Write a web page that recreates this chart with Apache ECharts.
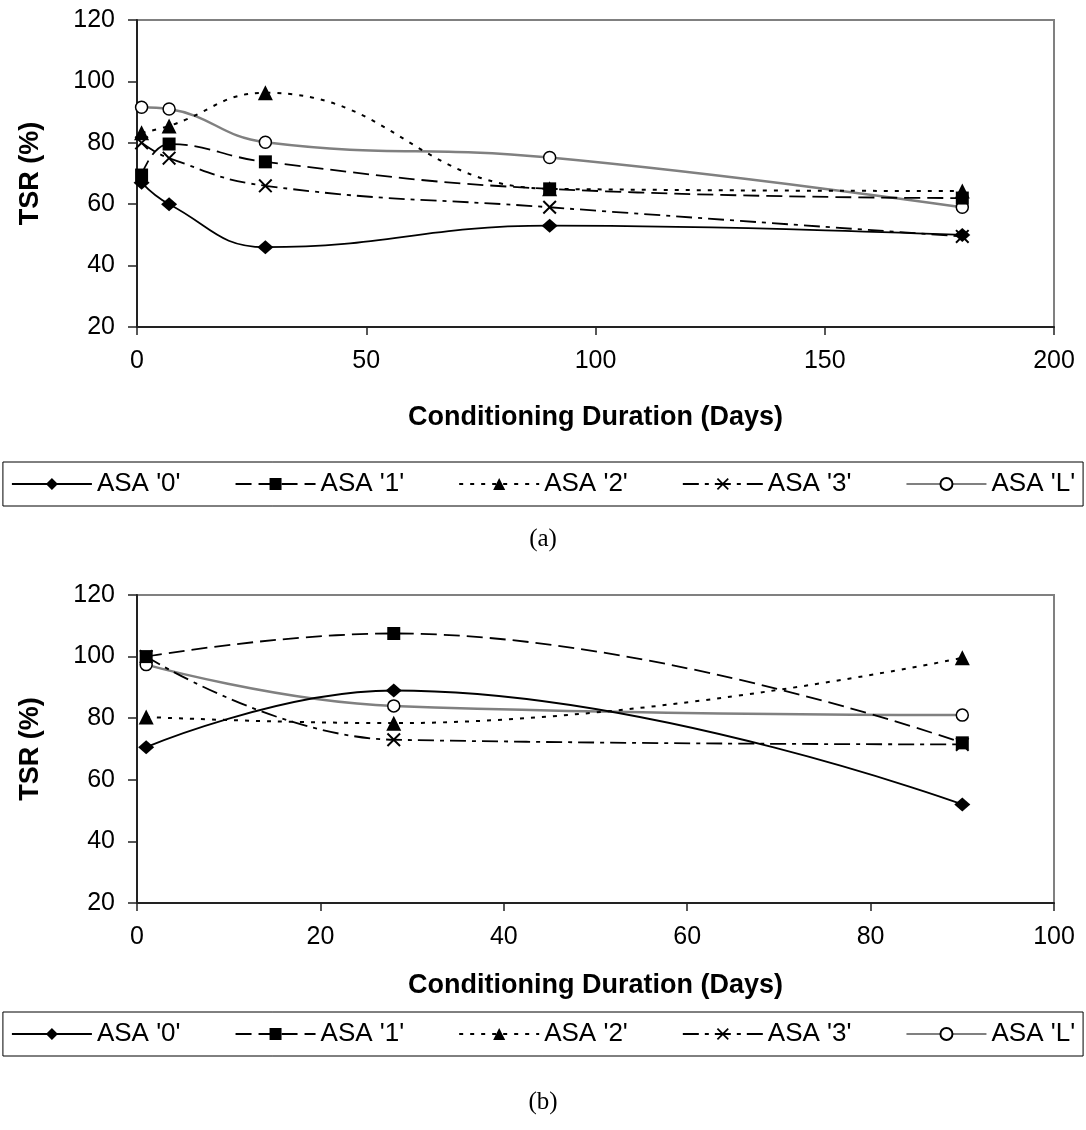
<!DOCTYPE html>
<html>
<head>
<meta charset="utf-8">
<title>TSR vs Conditioning Duration</title>
<script src="https://cdn.jsdelivr.net/npm/echarts@6/dist/echarts.min.js"></script>
<style>
  html, body { margin: 0; padding: 0; background: #fff; }
  #chart { width: 1086px; height: 1130px; }
</style>
</head>
<body>
<div id="chart"></div>
<script>
// --- panel (a) data ---
const daysA = [1, 7, 28, 90, 180];
const asa0A = [67, 60, 46, 53, 50];
const asa1A = [69.5, 79.6, 73.8, 65, 62];
const asa2A = [83.3, 85.5, 96.3, 65, 64.3];
const asa3A = [80, 75, 66, 59, 49.5];
const asaLA = [91.6, 91, 80.2, 75.2, 59];

// --- panel (b) data ---
const daysB = [1, 28, 90];
const asa0B = [70.6, 89, 52];
const asa1B = [100, 107.5, 72];
const asa2B = [80.4, 78.4, 99.6];
const asa3B = [100, 73, 71.5];
const asaLB = [97.4, 84, 81];

// --- labels ---
const seriesNames = ["ASA '0'", "ASA '1'", "ASA '2'", "ASA '3'", "ASA 'L'"];
const xTitle = 'Conditioning Duration (Days)';
const yTitle = 'TSR (%)';
const captions = ['(a)', '(b)'];

const FONT = "'Liberation Sans', Arial, sans-serif";
const CROSS = 'path://M1,0 L5,4 L9,0 L10,1 L6,5 L10,9 L9,10 L5,6 L1,10 L0,9 L4,5 L0,1 Z';

// line/marker look for each series, same order as seriesNames
const styles = [
  { symbol: 'diamond', size: [16, 14], line: { color: '#000', width: 1.8, type: 'solid' }, item: { color: '#000' } },
  { symbol: 'rect', size: 13, line: { color: '#000', width: 1.8, type: [16, 7] }, item: { color: '#000' } },
  { symbol: 'triangle', size: 15, line: { color: '#000', width: 2, type: [4, 7] }, item: { color: '#000' } },
  { symbol: CROSS, size: 14, line: { color: '#000', width: 1.8, type: [16, 6, 4, 6] }, item: { color: '#000' } },
  { symbol: 'circle', size: 12, line: { color: '#808080', width: 2.5, type: 'solid' }, item: { color: '#fff', borderColor: '#000', borderWidth: 1.5 } }
];

const zip = (xs, ys) => xs.map((x, i) => [x, ys[i]]);

const buildSeries = (axisIndex, days, valueLists) =>
  valueLists.map((vals, i) => ({
    name: seriesNames[i],
    type: 'line',
    xAxisIndex: axisIndex,
    yAxisIndex: axisIndex,
    smooth: 0.45,
    symbol: styles[i].symbol,
    symbolSize: styles[i].size,
    showAllSymbol: true,
    lineStyle: styles[i].line,
    itemStyle: styles[i].item,
    z: i === 4 ? 2 : 3,
    data: zip(days, vals)
  }));

const makeXAxis = (gridIndex, max, interval, nameGap) => ({
  type: 'value',
  gridIndex: gridIndex,
  min: 0,
  max: max,
  interval: interval,
  name: xTitle,
  nameLocation: 'middle',
  nameGap: nameGap,
  nameTextStyle: { fontFamily: FONT, fontSize: 27, fontWeight: 'bold', color: '#000' },
  axisLine: { onZero: false, lineStyle: { color: '#222', width: 2 } },
  axisTick: { inside: false, length: 8, lineStyle: { color: '#222', width: 1.5 } },
  axisLabel: { fontFamily: FONT, fontSize: 25, color: '#000', margin: 22 },
  splitLine: { show: false }
});

const makeYAxis = (gridIndex) => ({
  type: 'value',
  gridIndex: gridIndex,
  min: 20,
  max: 120,
  interval: 20,
  name: yTitle,
  nameLocation: 'middle',
  nameGap: 93,
  nameTextStyle: { fontFamily: FONT, fontSize: 27, fontWeight: 'bold', color: '#000' },
  axisLine: { onZero: false, lineStyle: { color: '#222', width: 2 } },
  axisTick: { inside: false, length: 9, lineStyle: { color: '#222', width: 1.5 } },
  axisLabel: { fontFamily: FONT, fontSize: 25, color: '#000', margin: 22 },
  splitLine: { show: false }
});

const makeLegend = (top) => ({
  top: top,
  left: 'center',
  data: seriesNames,
  selectedMode: false,
  itemWidth: 80,
  itemHeight: 15,
  itemGap: 54,
  padding: [9, 8],
  borderColor: '#000',
  borderWidth: 1,
  textStyle: { fontFamily: FONT, fontSize: 26, color: '#000' }
});

const chart = echarts.init(document.getElementById('chart'), null, { renderer: 'canvas' });

const option = {
  backgroundColor: '#fff',
  animation: false,
  title: [
    { text: captions[0], left: 'center', top: 522, textStyle: { fontFamily: "'Liberation Serif', serif", fontSize: 25, fontWeight: 'normal', color: '#000' } },
    { text: captions[1], left: 'center', top: 1085, textStyle: { fontFamily: "'Liberation Serif', serif", fontSize: 25, fontWeight: 'normal', color: '#000' } }
  ],
  grid: [
    { left: 137, right: 32, top: 20, height: 307, show: true, borderColor: '#808080', borderWidth: 2, backgroundColor: '#fff' },
    { left: 137, right: 32, top: 595, height: 308, show: true, borderColor: '#808080', borderWidth: 2, backgroundColor: '#fff' }
  ],
  xAxis: [makeXAxis(0, 200, 50, 77), makeXAxis(1, 100, 20, 69)],
  yAxis: [makeYAxis(0), makeYAxis(1)],
  legend: [makeLegend(462), makeLegend(1012)],
  series: [
    ...buildSeries(0, daysA, [asa0A, asa1A, asa2A, asa3A, asaLA]),
    ...buildSeries(1, daysB, [asa0B, asa1B, asa2B, asa3B, asaLB])
  ]
};

chart.setOption(option);
</script>
</body>
</html>
